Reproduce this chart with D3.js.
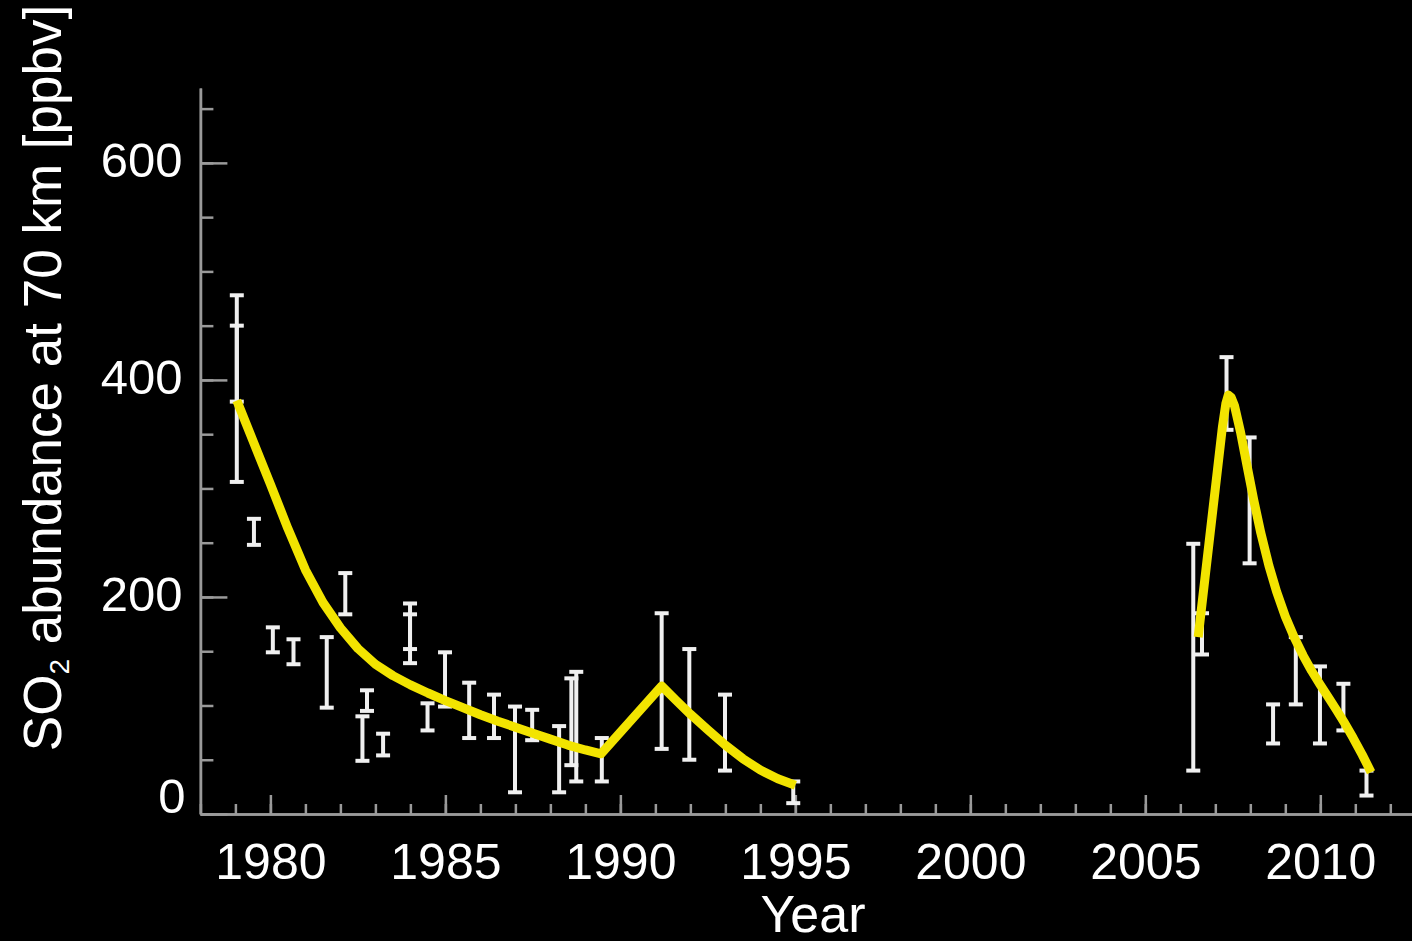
<!DOCTYPE html>
<html>
<head>
<meta charset="utf-8">
<script src="https://cdn.jsdelivr.net/npm/d3@7"></script>
<style>
  html, body { margin: 0; padding: 0; background: #000; }
  svg { display: block; }
  text { font-family: "Liberation Sans", Arial, Helvetica, sans-serif; fill: #fff; }
</style>
</head>
<body>
<svg id="chart" width="1412" height="941"></svg>
<script>
// ---- Data ----
// Error-bar measurements: year, lower bound, upper bound (ppbv)
const barYears = [1979.04, 1979.04, 1979.53, 1980.07, 1980.66, 1981.61, 1982.14, 1982.76, 1982.63, 1983.22,
                  1983.99, 1983.99, 1984.49, 1984.99, 1985.68, 1986.39, 1986.99, 1987.48, 1988.25, 1988.60,
                  1988.74, 1989.47, 1991.18, 1991.97, 1992.99, 1994.94,
                  2006.37, 2006.62, 2007.32, 2007.98, 2008.65, 2009.30, 2009.99, 2010.66, 2011.32];
const barLows  = [380, 306, 248, 149, 138, 98, 184, 95, 49, 54,
                  152, 139, 77, 99, 70, 70, 20, 68, 20, 45,
                  30, 30, 60, 50, 40, 10,
                  40, 147, 354, 231, 65, 101, 65, 77, 17];
const barHighs = [478, 450, 272, 172, 161, 163, 222, 114, 90, 74,
                  194, 184, 102, 149, 121, 110, 99, 96, 81, 125,
                  131, 70, 185, 152, 110, 30,
                  249, 185, 421, 347, 101, 163, 136, 120, 40];

// Fitted curve, first episode (1979-1995)
const fit1Years = [1979.04, 1979.5, 1980.0, 1980.5, 1981.0, 1981.5, 1982.0, 1982.5, 1983.0, 1983.5,
                   1984.0, 1984.5, 1985.0, 1985.5, 1986.0, 1986.5, 1987.0, 1987.5, 1988.0, 1988.5,
                   1989.0, 1989.45,
                   1991.18, 1991.6, 1992.0, 1992.5, 1993.0, 1993.5, 1994.0, 1994.5, 1995.0];
const fit1Vals  = [381, 344, 304, 263, 225, 195, 171.5, 152.5, 138, 127.5,
                   119, 111.5, 104.5, 98, 91.5, 85.5, 80, 74.5, 69, 63.5,
                   59, 55.5,
                   118, 104.5, 92, 77.5, 63.5, 51, 40.5, 32.5, 26.5];
// Fitted curve, second episode (2006-2011)
const fit2Years = [2006.51, 2007.0, 2007.2, 2007.3, 2007.37, 2007.45, 2007.55, 2007.72, 2007.9, 2008.1,
                   2008.3, 2008.53, 2008.75, 2009.0, 2009.25, 2009.51, 2009.75, 2009.99, 2010.25, 2010.46,
                   2010.7, 2010.94, 2011.2, 2011.45];
const fit2Vals  = [163, 300, 356, 378, 386, 384, 376, 352, 322, 289,
                   259, 229, 205, 182, 163, 146, 132, 119.5, 106.5, 96,
                   83.5, 70, 54.5, 38.5];

// Axis ticks
const xMajorTicks = [1980, 1985, 1990, 1995, 2000, 2005, 2010];
const xMinorTicks = d3.range(1978, 2013, 1);
const yMajorTicks = [0, 200, 400, 600];
const yMinorTicks = d3.range(0, 660, 50);

const xTitle = "Year";
const yTitlePre = "SO";
const yTitleSub = "2";
const yTitlePost = " abundance at 70 km [ppbv]";

// ---- Layout ----
const svg = d3.select("#chart");
svg.append("rect").attr("width", 1412).attr("height", 941).attr("fill", "#000");

const x = d3.scaleLinear().domain([1978, 2012.62]).range([200.4, 1412]);
const y = d3.scaleLinear().domain([0, 669]).range([814, 88]);

const axisColor = "#9a9a9a";

// X axis: minor ticks
const gxMinor = svg.append("g").attr("transform", `translate(0,${y(0)})`)
  .call(d3.axisBottom(x).tickValues(xMinorTicks).tickSize(-10).tickSizeOuter(0).tickFormat(""));
// X axis: major ticks + labels
const gxMajor = svg.append("g").attr("transform", `translate(0,${y(0)})`)
  .call(d3.axisBottom(x).tickValues(xMajorTicks).tickSize(-19).tickSizeOuter(0)
        .tickPadding(29).tickFormat(d3.format("d")));

// Y axis: minor ticks
const gyMinor = svg.append("g").attr("transform", `translate(${x(1978)},0)`)
  .call(d3.axisLeft(y).tickValues(yMinorTicks).tickSize(-13).tickSizeOuter(0).tickFormat(""));
// Y axis: major ticks + labels
const gyMajor = svg.append("g").attr("transform", `translate(${x(1978)},0)`)
  .call(d3.axisLeft(y).tickValues(yMajorTicks).tickSize(-27).tickSizeOuter(0)
        .tickPadding(18).tickFormat(d3.format("d")));

[gxMinor, gxMajor, gyMinor, gyMajor].forEach(g => {
  g.selectAll("path.domain").attr("stroke", axisColor).attr("stroke-width", 2.5);
  g.selectAll(".tick line").attr("stroke", axisColor).attr("stroke-width", 2.5);
  g.selectAll("text").attr("fill", "#fff")
   .style("font-family", "'Liberation Sans', Arial, sans-serif");
});
gxMajor.selectAll("text").style("font-size", "50px");
gyMajor.selectAll("text").style("font-size", "49px");
gyMajor.selectAll(".tick text").attr("dy", "0.28em");
// the "0" label is raised clear of the x axis
gyMajor.selectAll(".tick").filter(d => d === 0).select("text").attr("dy", "-0.03em").attr("x", -15);

// ---- Error bars ----
const bars = barYears.map((yr, i) => ({ yr, lo: barLows[i], hi: barHighs[i] }));
const barColor = "#f0f0f0";
const capHalf = 7;
const gBars = svg.append("g");
gBars.selectAll("line.stem").data(bars).join("line").attr("class", "stem")
  .attr("x1", d => x(d.yr)).attr("x2", d => x(d.yr))
  .attr("y1", d => y(d.lo)).attr("y2", d => y(d.hi))
  .attr("stroke", barColor).attr("stroke-width", 4);
gBars.selectAll("line.capHi").data(bars).join("line").attr("class", "capHi")
  .attr("x1", d => x(d.yr) - capHalf).attr("x2", d => x(d.yr) + capHalf)
  .attr("y1", d => y(d.hi)).attr("y2", d => y(d.hi))
  .attr("stroke", barColor).attr("stroke-width", 4);
gBars.selectAll("line.capLo").data(bars).join("line").attr("class", "capLo")
  .attr("x1", d => x(d.yr) - capHalf).attr("x2", d => x(d.yr) + capHalf)
  .attr("y1", d => y(d.lo)).attr("y2", d => y(d.lo))
  .attr("stroke", barColor).attr("stroke-width", 4);

// ---- Fitted curves ----
const line = d3.line().x(d => x(d[0])).y(d => y(d[1])).curve(d3.curveLinear);
const fit1 = fit1Years.map((yr, i) => [yr, fit1Vals[i]]);
const fit2 = fit2Years.map((yr, i) => [yr, fit2Vals[i]]);
[fit1, fit2].forEach(pts => {
  svg.append("path").datum(pts).attr("d", line)
    .attr("fill", "none").attr("stroke", "#f2e400").attr("stroke-width", 9)
    .attr("stroke-linejoin", "round").attr("stroke-linecap", "butt");
});

// ---- Axis titles ----
svg.append("text").attr("x", 813).attr("y", 932).attr("text-anchor", "middle")
  .style("font-size", "52px").text(xTitle);

const yt = svg.append("text").attr("transform", "translate(61,378) rotate(-90)")
  .attr("text-anchor", "middle").style("font-size", "53px");
yt.append("tspan").text(yTitlePre);
yt.append("tspan").style("font-size", "28px").attr("dy", "8").text(yTitleSub);
yt.append("tspan").attr("dy", "-8").text(yTitlePost);
</script>
</body>
</html>
